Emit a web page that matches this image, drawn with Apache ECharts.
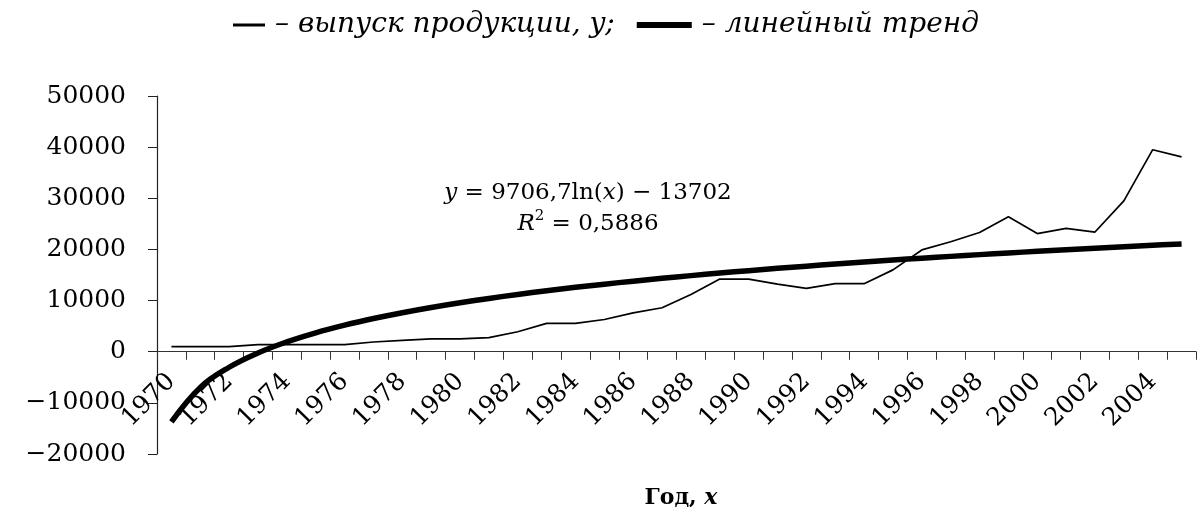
<!DOCTYPE html>
<html>
<head>
<meta charset="utf-8">
<script src="https://cdn.jsdelivr.net/npm/echarts@6/dist/echarts.min.js"></script>
<style>
  html, body { margin: 0; padding: 0; background: #fff; }
  #chart { width: 1203px; height: 515px; }
</style>
</head>
<body>
<div id="chart"></div>
<script>
// Years (category axis)
const years = ['1970', '1971', '1972', '1973', '1974', '1975', '1976', '1977', '1978', '1979',
  '1980', '1981', '1982', '1983', '1984', '1985', '1986', '1987', '1988', '1989',
  '1990', '1991', '1992', '1993', '1994', '1995', '1996', '1997', '1998', '1999',
  '2000', '2001', '2002', '2003', '2004', '2005'];

// Output of production, y
const output = [1000, 1000, 1000, 1400, 1400, 1400, 1400, 1900, 2200, 2500,
  2500, 2750, 3900, 5550, 5550, 6300, 7600, 8600, 11200, 14200,
  14200, 13200, 12400, 13300, 13300, 16000, 19900, 21500, 23300, 26400,
  23100, 24100, 23400, 29500, 39500, 38100];

// Logarithmic trend y = a·ln(x) − b, x = 1..n, and its R²
const trendA = 9706.7;
const trendB = 13702;
const trendR2 = 0.5886;

// Value axis range
const yMin = -20000;
const yMax = 50000;
const yStep = 10000;

const seriesNames = ['выпуск продукции, y;', 'линейный тренд'];

const trend = years.map((_, i) => trendA * Math.log(i + 1) - trendB);

const fmtComma = v => String(v).replace('.', ',');
const serif = 'DejaVu Serif';

// Plot area; the category axis is lifted from the bottom edge up to the zero level
const W = 1203, H = 515;
const gridBox = { left: 157, right: 7, top: 96, bottom: 61 };
const plotH = H - gridBox.top - gridBox.bottom;
const zeroLift = plotH * (0 - yMin) / (yMax - yMin);

const chart = echarts.init(document.getElementById('chart'), null, { renderer: 'canvas' });

chart.setOption({
  animation: false,
  backgroundColor: '#fff',
  grid: Object.assign({ containLabel: false, outerBoundsMode: 'none' }, gridBox),
  legend: {
    top: 6,
    left: 205,
    itemWidth: 55,
    itemHeight: 6,
    itemGap: 22,
    selectedMode: false,
    formatter: name => '– ' + name,
    textStyle: { fontFamily: serif, fontStyle: 'italic', fontSize: 28, color: '#000', padding: [0, 0, 0, 5] },
    data: [
      { name: seriesNames[0], icon: 'path://M0,0M55,6M23,1.5H55V4.5H23Z', itemStyle: { color: '#000', borderWidth: 0 } },
      { name: seriesNames[1], icon: 'path://M0,0H55V6H0Z', itemStyle: { color: '#000', borderWidth: 0 } }
    ]
  },
  xAxis: {
    type: 'category',
    data: years,
    boundaryGap: true,
    offset: -zeroLift,
    axisLine: { onZero: false, lineStyle: { color: '#333', width: 1.2 } },
    axisTick: { show: true, interval: 0, alignWithLabel: false, inside: false, length: 8, lineStyle: { color: '#333' } },
    axisLabel: {
      interval: 1,
      rotate: 45,
      margin: 26,
      fontFamily: serif,
      fontSize: 25,
      color: '#000'
    },
    splitLine: { show: false }
  },
  yAxis: {
    type: 'value',
    min: yMin,
    max: yMax,
    interval: yStep,
    axisLine: { show: true, onZero: false, lineStyle: { color: '#222', width: 1.2 } },
    axisTick: { show: true, length: 9, lineStyle: { color: '#222' } },
    axisLabel: {
      margin: 31,
      fontFamily: serif,
      fontSize: 25,
      color: '#000',
      formatter: v => String(v).replace('-', '−')
    },
    splitLine: { show: false }
  },
  series: [
    {
      name: seriesNames[0],
      type: 'line',
      data: output,
      showSymbol: false,
      symbol: 'none',
      lineStyle: { color: '#000', width: 1.7 },
      itemStyle: { color: '#000' },
      z: 3
    },
    {
      name: seriesNames[1],
      type: 'line',
      data: trend,
      showSymbol: false,
      symbol: 'none',
      smooth: 0.4,
      lineStyle: { color: '#000', width: 5.5 },
      itemStyle: { color: '#000' },
      z: 2
    }
  ],
  graphic: [
    {
      type: 'text',
      x: 588,
      y: 178,
      style: {
        text: '{i|y} = ' + fmtComma(trendA) + 'ln({i|x}) − ' + trendB + '\n{i|R}{sup|2} = ' + fmtComma(trendR2),
        textAlign: 'center',
        fontFamily: serif,
        fontSize: 23,
        fill: '#000',
        lineHeight: 31,
        rich: {
          i: { fontFamily: serif, fontStyle: 'italic', fontSize: 23, lineHeight: 31 },
          sup: { fontFamily: serif, fontSize: 15, verticalAlign: 'top', lineHeight: 31, padding: [0, 0, 10, 0] }
        }
      }
    },
    {
      type: 'text',
      x: 681,
      y: 487,
      style: {
        text: '{b|Год, }{bi|x}',
        textAlign: 'center',
        fill: '#000',
        rich: {
          b: { fontFamily: serif, fontWeight: 'bold', fontSize: 22 },
          bi: { fontFamily: serif, fontWeight: 'bold', fontStyle: 'italic', fontSize: 22 }
        }
      }
    }
  ]
});
</script>
</body>
</html>
